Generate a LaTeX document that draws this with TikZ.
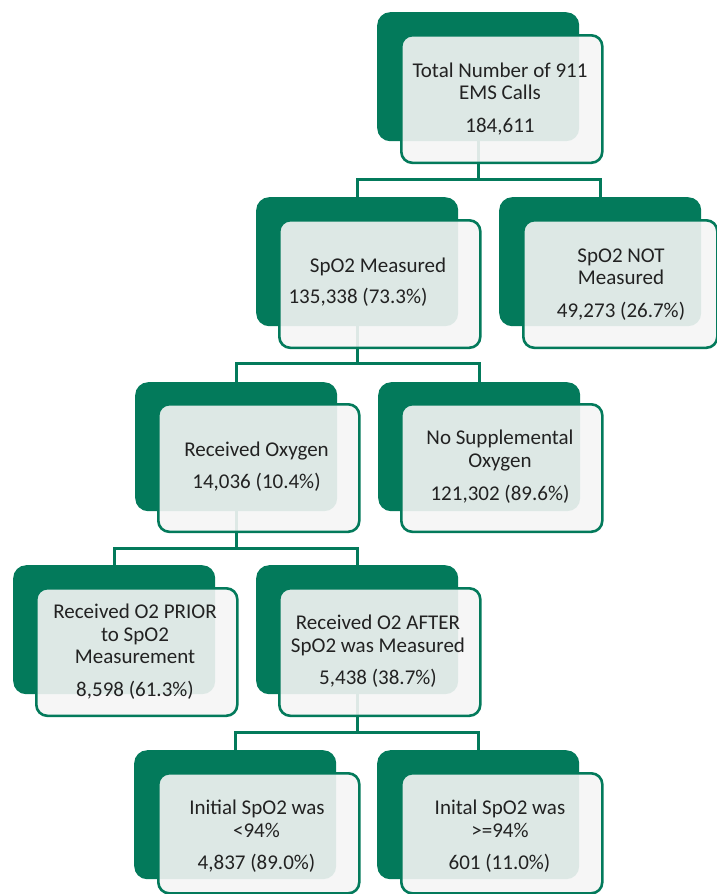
\documentclass[tikz,border=0pt]{standalone}
\usepackage{fontspec}
\setmainfont{Carlito}
\usetikzlibrary{backgrounds}
\definecolor{dkg}{HTML}{037A5B}
\definecolor{txt}{HTML}{222222}
\definecolor{pane}{HTML}{F5F5F5}
\begin{document}
\begin{tikzpicture}[x=1pt,y=-1pt,
  backbox/.style={fill=dkg, rounded corners=13pt, minimum width=202pt, minimum height=129pt, inner sep=0pt, anchor=north west},
  frontbox/.style={draw=dkg, line width=2.6pt, fill=pane, fill opacity=0.9, rounded corners=11pt, minimum width=201pt, minimum height=127.5pt, inner sep=0pt, anchor=north west},
  lbl/.style={text=txt, font=\fontsize{21}{22}\selectfont, anchor=base, inner sep=0pt},
  conn/.style={draw=dkg, line width=2.6pt}]
\useasboundingbox (0,0) rectangle (717,894);

% boxes
\node[backbox] (b1) at (377,12) {};
\node[frontbox] (f1) at (400,34) {};
\node[backbox] (b2) at (256,197) {};
\node[frontbox] (f2) at (278,219) {};
\node[backbox] (b3) at (499,197) {};
\node[frontbox, minimum width=194pt] (f3) at (522,219) {};
\node[backbox] (b4) at (135,382) {};
\node[frontbox] (f4) at (157,403) {};
\node[backbox] (b5) at (378,382) {};
\node[frontbox] (f5) at (400,403) {};
\node[backbox] (b6) at (13,565) {};
\node[frontbox] (f6) at (35,587) {};
\node[backbox] (b7) at (256,565) {};
\node[frontbox] (f7) at (278,587) {};
\node[backbox] (b8) at (134,750) {};
\node[frontbox, minimum height=120pt] (f8) at (157,772) {};
\node[backbox] (b9) at (377,750) {};
\node[frontbox, minimum height=120pt] (f9) at (400,772) {};

% labels
\node[lbl] (t1a) at (500,77) {Total Number of 911};
\node[lbl] (t1b) at (500,99) {EMS Calls};
\node[lbl] (t1c) at (500,132) {184,611};

\node[lbl] (t2a) at (378,272.5) {SpO2 Measured};
\node[lbl] (t2b) at (358,303) {135,338 (73.3\%)};

\node[lbl] (t3a) at (621,262) {SpO2 NOT};
\node[lbl] (t3b) at (621,284) {Measured};
\node[lbl] (t3c) at (621,317) {49,273 (26.7\%)};

\node[lbl] (t4a) at (256.5,456.5) {Received Oxygen};
\node[lbl] (t4b) at (256.5,488) {14,036 (10.4\%)};

\node[lbl] (t5a) at (500,444) {No Supplemental};
\node[lbl] (t5b) at (500,467) {Oxygen};
\node[lbl] (t5c) at (500,500) {121,302 (89.6\%)};

\node[lbl] (t6a) at (135,618) {Received O2 PRIOR};
\node[lbl] (t6b) at (135,641) {to SpO2};
\node[lbl] (t6c) at (135,663) {Measurement};
\node[lbl] (t6d) at (135,696) {8,598 (61.3\%)};

\node[lbl] (t7a) at (378,629) {Received O2 AFTER};
\node[lbl] (t7b) at (378,652) {SpO2 was Measured};
\node[lbl] (t7c) at (378,684) {5,438 (38.7\%)};

\node[lbl] (t8a) at (257,814) {Initial SpO2 was};
\node[lbl] (t8b) at (256.5,837) {<94\%};
\node[lbl] (t8c) at (256.5,869) {4,837 (89.0\%)};

\node[lbl] (t9a) at (500,814) {Inital SpO2 was};
\node[lbl] (t9b) at (500,837) {>=94\%};
\node[lbl] (t9c) at (499.5,869) {601 (11.0\%)};

% connectors
\begin{scope}[on background layer]
\path (b1.south) ++(0,38) coordinate (j1);
\path (b2.south) ++(0,37) coordinate (j2);
\path (b4.south) ++(0,37) coordinate (j4);
\path (b7.south) ++(0,38) coordinate (j7);
\draw[conn] (b1.center) -- (j1) -| (b2.north);
\draw[conn] (j1) -| (b3.north);
\draw[conn] (b2.center) -- (j2) -| (b4.north);
\draw[conn] (j2) -| (b5.north);
\draw[conn] (b4.center) -- (j4) -| (b6.north);
\draw[conn] (j4) -| (b7.north);
\draw[conn] (b7.center) -- (j7) -| (b8.north);
\draw[conn] (j7) -| (b9.north);
\end{scope}
\end{tikzpicture}
\end{document}
